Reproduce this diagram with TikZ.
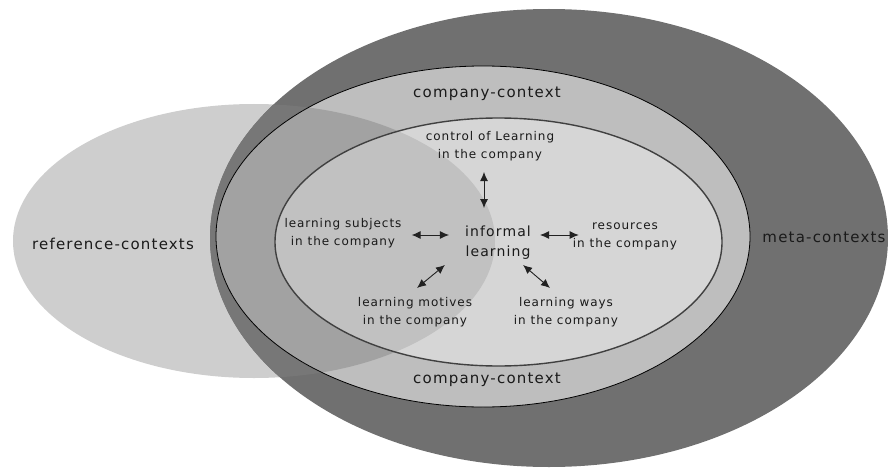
\documentclass[tikz,border=0pt]{standalone}
\usepackage{fontspec}
\setmainfont{DejaVu Sans}[LetterSpace=8]
\usetikzlibrary{calc,arrows.meta}
\definecolor{metagray}{HTML}{707070}
\definecolor{metaref}{HTML}{777777}
\definecolor{refgray}{HTML}{CECECE}
\definecolor{compgray}{HTML}{BEBEBE}
\definecolor{compref}{HTML}{A2A2A2}
\definecolor{innergray}{HTML}{D6D6D6}
\definecolor{innerref}{HTML}{C1C1C1}
\definecolor{txt}{HTML}{1A1A1A}
\definecolor{arrowcol}{HTML}{222222}
\tikzset{
  biglabel/.style={inner sep=0pt, text=txt, font=\fontsize{15}{18}\selectfont},
  smalllabel/.style={inner sep=0pt, text=txt, align=center, font=\fontsize{12}{18}\selectfont},
  centrelabel/.style={inner sep=0pt, text=txt, align=center, font=\fontsize{14}{20}\selectfont},
  linkarrow/.style={draw=arrowcol, line width=0.9pt, {Latex[length=9pt,width=8pt]}-{Latex[length=9pt,width=8pt]}}
}
\begin{document}
\begin{tikzpicture}[x=1pt,y=-1pt]
\useasboundingbox (0,0) rectangle (888,468);
% reference ellipse
\fill[refgray] (254,241) ellipse [x radius=241pt, y radius=137pt];
% meta ellipse
\fill[metagray] (549,238) ellipse [x radius=339pt, y radius=229pt];
\begin{scope}
  \clip (254,241) ellipse [x radius=241pt, y radius=137pt];
  \fill[metaref] (549,238) ellipse [x radius=339pt, y radius=229pt];
\end{scope}
% company ellipse
\fill[compgray] (483,236.5) ellipse [x radius=267pt, y radius=170.5pt];
\begin{scope}
  \clip (254,241) ellipse [x radius=241pt, y radius=137pt];
  \fill[compref] (483,236.5) ellipse [x radius=267pt, y radius=170.5pt];
\end{scope}
% inner ellipse
\fill[innergray] (498.5,242) ellipse [x radius=223.5pt, y radius=124pt];
\begin{scope}
  \clip (254,241) ellipse [x radius=241pt, y radius=137pt];
  \fill[innerref] (498.5,242) ellipse [x radius=223.5pt, y radius=124pt];
\end{scope}
\draw[black, line width=0.8pt] (483,236.5) ellipse [x radius=267pt, y radius=170.5pt];
\draw[black!75, line width=1.4pt] (498.5,242) ellipse [x radius=223.5pt, y radius=124pt];

% labels
\node[biglabel] (cctop) at (487,94) {company-context};
\node[biglabel] (ccbot) at (487,380) {company-context};
\node[biglabel] (refl) at (113,244) {reference-contexts};
\node[biglabel] (meta) at (824,237) {meta-contexts};

\node[smalllabel] (ctrl) at (490,146) {control of Learning\\in the company};
\node[smalllabel] (subj) at (343,233) {learning subjects\\in the company};
\node[smalllabel] (res) at (625,236.5) {resources\\in the company};
\node[smalllabel] (mot) at (415,312) {learning motives\\in the company};
\node[smalllabel] (ways) at (566,312) {learning ways\\in the company};
\node[centrelabel] (inf) at (498,243) {informal\\learning};

% connectors
\draw[linkarrow] ($(ctrl.south)+(-6,11)$) -- ($(inf.north)+(-14,-18)$);
\draw[linkarrow] ($(subj.east)+(10,2)$) -- ($(inf.west)+(-16,-8)$);
\draw[linkarrow] ($(inf.east)+(9,-8)$) -- ($(res.west)+(6,-1.5)$);
\draw[linkarrow] ($(mot.north)+(2,-9)$) -- ($(inf.south west)+(-20,5)$);
\draw[linkarrow] ($(inf.south east)+(-8,5)$) -- ($(ways.north)+(-16,-9)$);
\end{tikzpicture}
\end{document}
